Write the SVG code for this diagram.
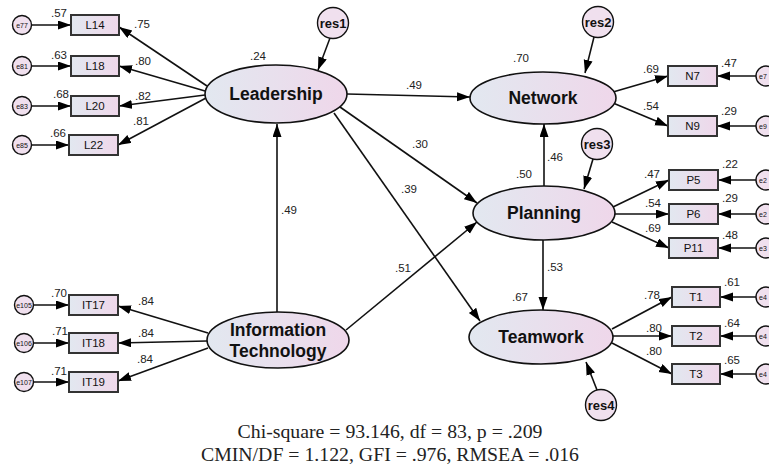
<svg xmlns="http://www.w3.org/2000/svg" width="769" height="467" viewBox="0 0 769 467">
<defs>
<linearGradient id="g" x1="0" y1="0" x2="1" y2="0">
<stop offset="0" stop-color="#e2e8f0"/>
<stop offset="1" stop-color="#efd7ea"/>
</linearGradient>
<marker id="ah" markerUnits="userSpaceOnUse" markerWidth="14" markerHeight="10" refX="13" refY="4.5" orient="auto">
<path d="M0,0 L13,4.5 L0,9 z" fill="#000"/>
</marker>
<style>
.lat{fill:url(#g);stroke:#111;stroke-width:1.6}
.box{fill:url(#g);stroke:#333;stroke-width:2}
.err{fill:#f0e0ee;stroke:#111;stroke-width:1.4}
.ln{stroke:#111;stroke-width:1.6;fill:none;marker-end:url(#ah)}
.lt{font-family:"Liberation Sans",Arial,sans-serif;font-weight:bold;font-size:17.5px;text-anchor:middle;fill:#111}
.rt{font-family:"Liberation Sans",Arial,sans-serif;font-weight:bold;font-size:13px;text-anchor:middle;fill:#111}
.bt{font-family:"Liberation Sans",Arial,sans-serif;font-size:11.5px;text-anchor:middle;fill:#111}
.et{font-family:"Liberation Sans",Arial,sans-serif;font-size:7px;text-anchor:middle;fill:#111}
.es{font-family:"Liberation Sans",Arial,sans-serif;font-size:7px;fill:#111}
.nt{font-family:"Liberation Sans",Arial,sans-serif;font-size:11.5px;fill:#222}
.ft{font-family:"Liberation Serif","Times New Roman",serif;font-size:19.8px;text-anchor:middle;fill:#222}
</style>
</defs>
<rect width="769" height="467" fill="#fff"/>

<g id="connectors">
<line class="ln" x1="330" y1="38" x2="318" y2="70"/>
<line class="ln" x1="594" y1="37" x2="585" y2="73"/>
<line class="ln" x1="593" y1="159" x2="584" y2="189"/>
<line class="ln" x1="597" y1="390" x2="586" y2="362"/>
<line class="ln" x1="347" y1="94" x2="470" y2="97"/>
<line class="ln" x1="340" y1="107" x2="477" y2="203"/>
<line class="ln" x1="334" y1="113" x2="480" y2="321"/>
<line class="ln" x1="346" y1="330" x2="477" y2="222"/>
<line class="ln" x1="277" y1="312" x2="277" y2="124"/>
<line class="ln" x1="544" y1="186" x2="544" y2="124"/>
<line class="ln" x1="543" y1="240" x2="543" y2="310"/>
<line class="ln" x1="207" y1="86" x2="119" y2="27"/>
<line class="ln" x1="205" y1="91" x2="119" y2="66"/>
<line class="ln" x1="205" y1="95" x2="119" y2="106"/>
<line class="ln" x1="206" y1="98" x2="118" y2="145"/>
<line class="ln" x1="208" y1="333" x2="118" y2="306"/>
<line class="ln" x1="207" y1="341" x2="118" y2="343"/>
<line class="ln" x1="208" y1="348" x2="118" y2="381"/>
<line class="ln" x1="31" y1="25" x2="71" y2="25"/>
<line class="ln" x1="31" y1="66" x2="71" y2="66"/>
<line class="ln" x1="31" y1="106" x2="71" y2="106"/>
<line class="ln" x1="31" y1="145" x2="69" y2="145"/>
<line class="ln" x1="33" y1="305" x2="69" y2="305"/>
<line class="ln" x1="33" y1="343" x2="69" y2="343"/>
<line class="ln" x1="33" y1="382" x2="69" y2="382"/>
<line class="ln" x1="613" y1="92" x2="668" y2="76"/>
<line class="ln" x1="613" y1="103" x2="668" y2="126"/>
<line class="ln" x1="756" y1="76" x2="717" y2="76"/>
<line class="ln" x1="756" y1="126" x2="717" y2="126"/>
<line class="ln" x1="613" y1="207" x2="669" y2="180"/>
<line class="ln" x1="615" y1="214" x2="669" y2="214"/>
<line class="ln" x1="612" y1="222" x2="669" y2="248"/>
<line class="ln" x1="756" y1="180" x2="718" y2="180"/>
<line class="ln" x1="756" y1="214" x2="718" y2="214"/>
<line class="ln" x1="756" y1="248" x2="718" y2="248"/>
<line class="ln" x1="612" y1="329" x2="672" y2="297"/>
<line class="ln" x1="613" y1="336" x2="672" y2="336"/>
<line class="ln" x1="612" y1="343" x2="672" y2="374"/>
<line class="ln" x1="756" y1="297" x2="720" y2="297"/>
<line class="ln" x1="756" y1="336" x2="720" y2="336"/>
<line class="ln" x1="756" y1="374" x2="720" y2="374"/>
</g>

<g id="coefficients">
<text class="nt" x="406" y="89">.49</text>
<text class="nt" x="412" y="148">.30</text>
<text class="nt" x="401" y="193">.39</text>
<text class="nt" x="395" y="272">.51</text>
<text class="nt" x="281" y="214">.49</text>
<text class="nt" x="547" y="161">.46</text>
<text class="nt" x="547" y="271">.53</text>
<text class="nt" x="250" y="60">.24</text>
<text class="nt" x="513" y="62">.70</text>
<text class="nt" x="516" y="178">.50</text>
<text class="nt" x="512" y="301">.67</text>
<text class="nt" x="51" y="17">.57</text>
<text class="nt" x="51" y="59">.63</text>
<text class="nt" x="53" y="98">.68</text>
<text class="nt" x="50" y="137">.66</text>
<text class="nt" x="134" y="28">.75</text>
<text class="nt" x="135" y="65">.80</text>
<text class="nt" x="135" y="100">.82</text>
<text class="nt" x="133" y="125">.81</text>
<text class="nt" x="51" y="297">.70</text>
<text class="nt" x="52" y="335">.71</text>
<text class="nt" x="51" y="375">.71</text>
<text class="nt" x="138" y="305">.84</text>
<text class="nt" x="138" y="337">.84</text>
<text class="nt" x="137" y="363">.84</text>
<text class="nt" x="643" y="73">.69</text>
<text class="nt" x="643" y="110">.54</text>
<text class="nt" x="721" y="67">.47</text>
<text class="nt" x="721" y="115">.29</text>
<text class="nt" x="644" y="178">.47</text>
<text class="nt" x="645" y="207">.54</text>
<text class="nt" x="645" y="232">.69</text>
<text class="nt" x="722" y="168">.22</text>
<text class="nt" x="722" y="202">.29</text>
<text class="nt" x="722" y="239">.48</text>
<text class="nt" x="644" y="299">.78</text>
<text class="nt" x="646" y="332">.80</text>
<text class="nt" x="646" y="355">.80</text>
<text class="nt" x="724" y="286">.61</text>
<text class="nt" x="724" y="327">.64</text>
<text class="nt" x="724" y="364">.65</text>
</g>

<g id="res1"><circle class="err" cx="333" cy="23" r="15.5"/><text class="rt" x="333" y="28">res1</text></g>
<g id="res2"><circle class="err" cx="598" cy="22" r="15.5"/><text class="rt" x="598" y="27">res2</text></g>
<g id="res3"><circle class="err" cx="597" cy="144" r="15.5"/><text class="rt" x="597" y="149">res3</text></g>
<g id="res4"><circle class="err" cx="601" cy="405" r="15.5"/><text class="rt" x="601" y="410">res4</text></g>

<g id="Leadership"><ellipse class="lat" cx="276" cy="94" rx="71" ry="29"/><text class="lt" x="276" y="100">Leadership</text></g>
<g id="Network"><ellipse class="lat" cx="543" cy="98" rx="73" ry="26"/><text class="lt" x="543" y="104">Network</text></g>
<g id="Planning"><ellipse class="lat" cx="544" cy="213" rx="71" ry="27"/><text class="lt" x="544" y="219">Planning</text></g>
<g id="Teamwork"><ellipse class="lat" cx="541" cy="337" rx="72" ry="27"/><text class="lt" x="541" y="343">Teamwork</text></g>
<g id="InformationTechnology"><ellipse class="lat" cx="278" cy="340" rx="71" ry="28"/><text class="lt" x="278" y="336">Information</text><text class="lt" x="278" y="357">Technology</text></g>

<g id="L14"><rect class="box" x="71" y="15" width="48" height="20"/><text class="bt" x="95" y="29">L14</text></g>
<g id="L18"><rect class="box" x="71" y="56" width="48" height="20"/><text class="bt" x="95" y="70">L18</text></g>
<g id="L20"><rect class="box" x="71" y="96" width="48" height="20"/><text class="bt" x="95" y="110">L20</text></g>
<g id="L22"><rect class="box" x="69" y="135" width="49" height="20"/><text class="bt" x="93.5" y="149">L22</text></g>
<g id="IT17"><rect class="box" x="69" y="295" width="49" height="20"/><text class="bt" x="93.5" y="309">IT17</text></g>
<g id="IT18"><rect class="box" x="69" y="333" width="49" height="20"/><text class="bt" x="93.5" y="347">IT18</text></g>
<g id="IT19"><rect class="box" x="69" y="372" width="49" height="20"/><text class="bt" x="93.5" y="386">IT19</text></g>
<g id="N7"><rect class="box" x="668" y="66" width="49" height="20"/><text class="bt" x="692.5" y="80">N7</text></g>
<g id="N9"><rect class="box" x="668" y="116" width="49" height="20"/><text class="bt" x="692.5" y="130">N9</text></g>
<g id="P5"><rect class="box" x="669" y="170" width="49" height="20"/><text class="bt" x="693.5" y="184">P5</text></g>
<g id="P6"><rect class="box" x="669" y="204" width="49" height="20"/><text class="bt" x="693.5" y="218">P6</text></g>
<g id="P11"><rect class="box" x="669" y="238" width="49" height="20"/><text class="bt" x="693.5" y="252">P11</text></g>
<g id="T1"><rect class="box" x="672" y="287" width="48" height="20"/><text class="bt" x="696" y="301">T1</text></g>
<g id="T2"><rect class="box" x="672" y="326" width="48" height="20"/><text class="bt" x="696" y="340">T2</text></g>
<g id="T3"><rect class="box" x="672" y="364" width="48" height="20"/><text class="bt" x="696" y="378">T3</text></g>

<g id="e77"><circle class="err" cx="22" cy="25" r="9.5"/><text class="et" x="22" y="27.5">e77</text></g>
<g id="e81"><circle class="err" cx="22" cy="66" r="9.5"/><text class="et" x="22" y="68.5">e81</text></g>
<g id="e83"><circle class="err" cx="22" cy="106" r="9.5"/><text class="et" x="22" y="108.5">e83</text></g>
<g id="e85"><circle class="err" cx="22" cy="145" r="9.5"/><text class="et" x="22" y="147.5">e85</text></g>
<g id="e105"><circle class="err" cx="24" cy="305" r="9.5"/><text class="et" x="24" y="307.5">e105</text></g>
<g id="e106"><circle class="err" cx="24" cy="343" r="9.5"/><text class="et" x="24" y="345.5">e106</text></g>
<g id="e107"><circle class="err" cx="24" cy="382" r="9.5"/><text class="et" x="24" y="384.5">e107</text></g>
<g id="e7"><circle class="err" cx="766" cy="76" r="10"/><text class="es" x="759" y="78.5">e7</text></g>
<g id="e9"><circle class="err" cx="766" cy="126" r="10"/><text class="es" x="759" y="128.5">e9</text></g>
<g id="e2a"><circle class="err" cx="766" cy="180" r="10"/><text class="es" x="759" y="182.5">e2</text></g>
<g id="e2b"><circle class="err" cx="766" cy="214" r="10"/><text class="es" x="759" y="216.5">e2</text></g>
<g id="e3"><circle class="err" cx="766" cy="248" r="10"/><text class="es" x="759" y="250.5">e3</text></g>
<g id="e4a"><circle class="err" cx="766" cy="297" r="10"/><text class="es" x="759" y="299.5">e4</text></g>
<g id="e4b"><circle class="err" cx="766" cy="336" r="10"/><text class="es" x="759" y="338.5">e4</text></g>
<g id="e4c"><circle class="err" cx="766" cy="374" r="10"/><text class="es" x="759" y="376.5">e4</text></g>

<g id="fit">
<text class="ft" x="390" y="438">Chi-square = 93.146, df = 83, p = .209</text>
<text class="ft" x="390" y="461">CMIN/DF = 1.122, GFI = .976, RMSEA = .016</text>
</g>
</svg>
